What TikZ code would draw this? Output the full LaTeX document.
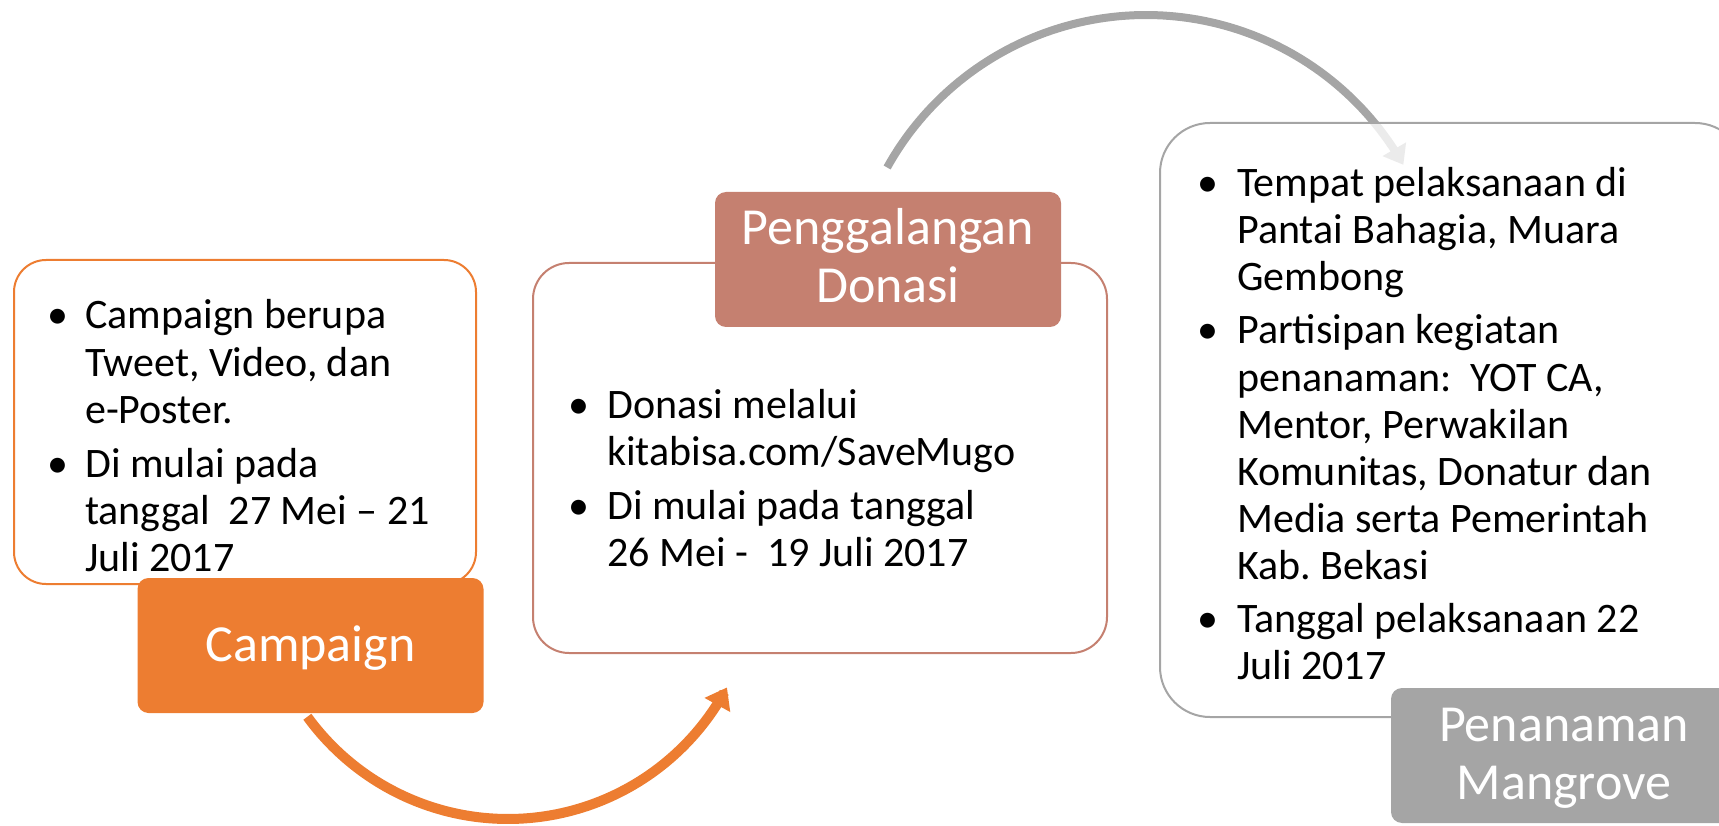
\documentclass[tikz,border=0pt]{standalone}
\usepackage{fontspec}
\setmainfont{Carlito}
\usetikzlibrary{arrows.meta}
\definecolor{corange}{HTML}{ED7D31}
\definecolor{cbrown}{HTML}{C58070}
\definecolor{cgray}{HTML}{A5A5A5}
\frenchspacing
\begin{document}
\begin{tikzpicture}[x=1pt,y=-1pt,
  body/.style={font=\fontsize{42}{47}\selectfont, inner sep=0pt, anchor=base west, text=black},
  bul/.style={font=\fontsize{42}{47}\selectfont, inner sep=0pt, anchor=base, text=black},
  lbltext/.style={font=\fontsize{52}{58}\selectfont, inner sep=0pt, anchor=base, text=white},
  panel/.style={draw, line width=2pt, inner sep=0pt},
  tag/.style={inner sep=0pt, rounded corners=11pt, minimum width=346pt, minimum height=135pt},
  arc/.style={line cap=butt},
]
\useasboundingbox (0,0) rectangle (1719,826);
\clip (0,0) rectangle (1719,826);

% gray arrow (behind the third panel)
\draw[arc, cgray, line width=8pt, -{Triangle[length=18pt,width=26pt]}]
  plot[domain=-151:-29.6, samples=90] ({1146+296*cos(\x)}, {311+296*sin(\x)});

% panels
\node[panel, draw=corange, fill=white, rounded corners=32pt, minimum width=462pt, minimum height=324pt] (box1) at (245,422) {};
\node[panel, draw=cbrown, fill=white, rounded corners=36pt, minimum width=574pt, minimum height=390pt] (box2) at (820,458) {};
\node[panel, draw=cgray, fill=white, fill opacity=0.78, rounded corners=50pt, minimum width=585pt, minimum height=594pt] (box3) at (1452.5,420) {};

% orange arrow
\draw[arc, corange, line width=10pt, -{Triangle[length=20pt,width=28pt]}]
  plot[domain=144:28, samples=90] ({508+248*cos(\x)}, {571+248*sin(\x)});

% tags
\node[tag, fill=corange] (tag1) at (310.5,645.5) {};
\node[tag, fill=cbrown] (tag2) at (888,259.5) {};
\node[tag, fill=cgray] (tag3) at (1564,755.5) {};

\node[lbltext] (tag1a) at (310.5,661) {Campaign};
\node[lbltext] (tag2a) at (888,245) {Penggalangan};
\node[lbltext] (tag2b) at (888,303) {Donasi};
\node[lbltext] (tag3a) at (1564,741) {Penanaman};
\node[lbltext] (tag3b) at (1564,799) {Mangrove};

% box 1 text
\node[bul] (c1b) at (58,329) {•};
\node[body] (c1) at (85,329) {Campaign berupa};
\node[body] (c2) at (85,376) {Tweet, Video, dan};
\node[body] (c3) at (85,423) {e-Poster.};
\node[bul] (c4b) at (58,477) {•};
\node[body] (c4) at (85,477) {Di mulai pada};
\node[body] (c5) at (85,524) {tanggal\ \ 27 Mei – 21};
\node[body] (c6) at (85,571) {Juli 2017};

% box 2 text
\node[bul] (d1b) at (579,418) {•};
\node[body] (d1) at (607,418) {Donasi melalui};
\node[body] (d2) at (607,465) {kitabisa.com/SaveMugo};
\node[bul] (d3b) at (579,519) {•};
\node[body] (d3) at (607,519) {Di mulai pada tanggal};
\node[body] (d4) at (607,566) {26 Mei -\ \ 19 Juli 2017};

% box 3 text
\node[bul] (p1b) at (1208,197) {•};
\node[body] (p1) at (1237,197) {Tempat pelaksanaan di};
\node[body] (p2) at (1237,244) {Pantai Bahagia, Muara};
\node[body] (p3) at (1237,291) {Gembong};
\node[bul] (p4b) at (1208,344) {•};
\node[body] (p4) at (1237,344) {Partisipan kegiatan};
\node[body] (p5) at (1237,391) {penanaman:\ \ YOT CA,};
\node[body] (p6) at (1237,438) {Mentor, Perwakilan};
\node[body] (p7) at (1237,485) {Komunitas, Donatur dan};
\node[body] (p8) at (1237,532) {Media serta Pemerintah};
\node[body] (p9) at (1237,579) {Kab. Bekasi};
\node[bul] (p10b) at (1208,632) {•};
\node[body] (p10) at (1237,632) {Tanggal pelaksanaan 22};
\node[body] (p11) at (1237,679) {Juli 2017};
\end{tikzpicture}
\end{document}
